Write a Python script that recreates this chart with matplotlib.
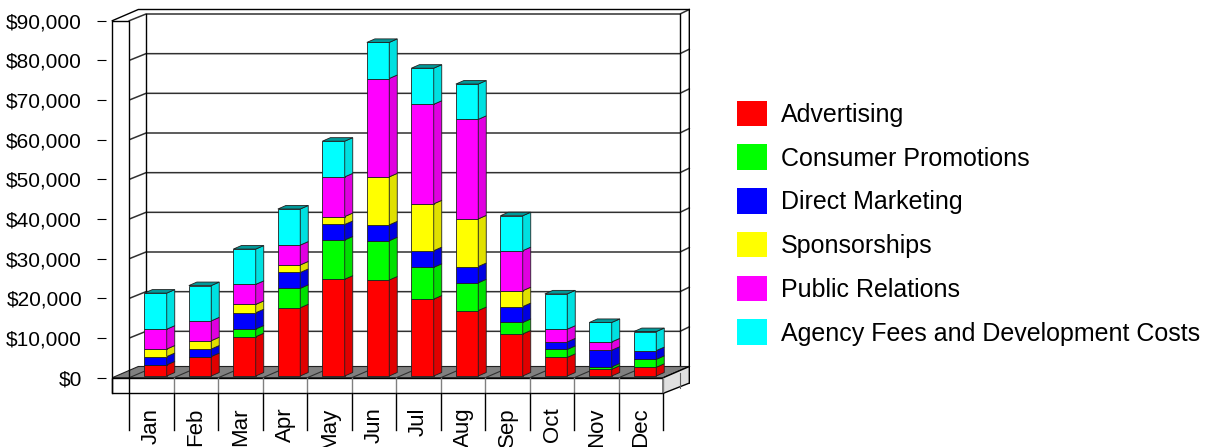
import matplotlib
matplotlib.use("Agg")
import matplotlib.pyplot as plt
from matplotlib.patches import Polygon, Rectangle, Patch
import numpy as np

plt.rcParams['font.family'] = ['Liberation Sans', 'DejaVu Sans']

months = ["Jan", "Feb", "Mar", "Apr", "May", "Jun",
          "Jul", "Aug", "Sep", "Oct", "Nov", "Dec"]
series = ["Advertising", "Consumer Promotions", "Direct Marketing",
          "Sponsorships", "Public Relations", "Agency Fees and Development Costs"]

advertising = [2800, 4900, 9900, 17200, 24400, 24200, 19400, 16500, 10600, 4700, 1700, 2200]
consumer_promotions = [0, 0, 1950, 4900, 9900, 9900, 8000, 7000, 2900, 2000, 600, 2000]
direct_marketing = [2100, 1900, 4100, 4000, 3900, 4000, 4200, 4100, 4000, 1900, 4200, 2200]
sponsorships = [1900, 2100, 2100, 1900, 2000, 12100, 11800, 12000, 4000, 0, 0, 0]
public_relations = [5000, 5000, 5050, 5000, 10000, 24800, 25100, 25100, 10100, 3200, 2100, 0]
agency_fees = [9100, 8900, 8900, 9100, 9000, 9100, 9100, 8900, 8800, 8900, 4900, 4800]

values = [advertising, consumer_promotions, direct_marketing,
          sponsorships, public_relations, agency_fees]
colors = ["#ff0000", "#00ff00", "#0000ff", "#ffff00", "#ff00ff", "#00ffff"]

y_ticks = list(range(0, 90001, 10000))
y_max = 90000

# pixel layout of the plot box
W, H = 1212, 447
X0, CAT_W = 129.3, 44.5
Y0, Y_TOP = 377.7, 20.7
PY = (Y0 - Y_TOP) / y_max


def dx(p):
    return p / CAT_W


def dy(p):
    return p / PY


def shade(c, f):
    r, g, b = matplotlib.colors.to_rgb(c)
    return (r * f, g * f, b * f)


fig = plt.figure(figsize=(W / 100, H / 100), dpi=100)
ax = fig.add_axes([X0 / W, (H - Y0) / H, 12 * CAT_W / W, (Y0 - Y_TOP) / H])
ax.set_xlim(-0.5, 11.5)
ax.set_ylim(0, y_max)
ax.patch.set_visible(False)
for s in ax.spines.values():
    s.set_visible(False)

# depths of the box
DI = (dx(16.7), dy(6.7))   # wall inner depth
DF = (dx(26), dy(11.2))    # full depth incl. wall thickness
x_out = -0.5 - dx(17)
x_back_r = 11.5 + DI[0]
x_far_r = 11.5 + DF[0]
floor_low = -dy(15.6)
sep_low = -dy(52.3)
line_kw = dict(color="black", lw=1.0, clip_on=False)

# back wall grid and wall edges
for v in y_ticks:
    ax.plot([-0.5, -0.5 + DI[0], x_back_r, x_far_r],
            [v, v + DI[1], v + DI[1], v + DI[1] + dy(4.5)],
            color="#303030", lw=1.1, clip_on=False, zorder=1)
ax.plot([-0.5 + DI[0], -0.5 + DI[0]], [DI[1], y_max + DI[1]], zorder=1, **line_kw)
ax.plot([x_back_r, x_back_r], [0, y_max + DI[1]], zorder=1, **line_kw)
ax.plot([x_out, x_out + DF[0], x_far_r, x_far_r],
        [y_max, y_max + DF[1], y_max + DF[1], DF[1] - dy(16.6)], zorder=1, **line_kw)

# left wall front face
ax.add_patch(Polygon([(x_out, floor_low), (-0.5, floor_low), (-0.5, y_max), (x_out, y_max)],
                     closed=True, facecolor="white", edgecolor="none", clip_on=False, zorder=2))
ax.plot([x_out, x_out, -0.5, -0.5], [floor_low, y_max, y_max, sep_low], zorder=6, **line_kw)

# floor
ax.add_patch(Polygon([(x_out, 0), (11.5, 0), (11.5 + DF[0], DF[1]), (x_out + DF[0], DF[1])],
                     closed=True, facecolor="#808080", edgecolor="#202020", lw=0.8,
                     clip_on=False, zorder=3))
for k in range(13):
    xb = k - 0.5
    ax.plot([xb, xb + DF[0]], [0, DF[1]], color="#303030", lw=0.8, clip_on=False, zorder=3)
ax.add_patch(Rectangle((x_out, floor_low), 11.5 - x_out, -floor_low, facecolor="white",
                       edgecolor="black", lw=1.0, clip_on=False, zorder=3))
ax.add_patch(Polygon([(11.5, 0), (11.5 + DF[0], DF[1]), (11.5 + DF[0], DF[1] - dy(16.6)),
                      (11.5, floor_low)], closed=True, facecolor="#e0e0e0",
                     edgecolor="black", lw=1.0, clip_on=False, zorder=3))
ax.plot([x_back_r, x_back_r], [DI[1] - dy(2), DI[1] - dy(17)], color="#606060", lw=0.8,
        clip_on=False, zorder=3)

# category separators under the floor
for k in range(1, 13):
    xb = k - 0.5
    ax.plot([xb, xb], [0, floor_low], color="#808080", lw=1.0, clip_on=False, zorder=4)
    ax.plot([xb, xb], [floor_low, sep_low], **line_kw, zorder=4)

# stacked 3d bars
bar_w = 0.503
off = (dx(4), dy(1.7))
depth = (dx(8), dy(3.5))
x = np.arange(len(months)) + off[0]
cum = np.zeros(len(months)) + off[1]
for vals, c in zip(values, colors):
    vals = np.array(vals, dtype=float)
    ax.bar(x, vals, bottom=cum, width=bar_w, color=c, edgecolor="#202020",
           lw=0.6, zorder=5, clip_on=False)
    for i in range(len(months)):
        if vals[i] <= 0:
            continue
        xr = x[i] + bar_w / 2
        b, t = cum[i], cum[i] + vals[i]
        ax.add_patch(Polygon([(xr, b), (xr + depth[0], b + depth[1]),
                              (xr + depth[0], t + depth[1]), (xr, t)], closed=True,
                             facecolor=shade(c, 0.88), edgecolor="#202020", lw=0.6,
                             zorder=5, clip_on=False))
    cum = cum + vals
for i in range(len(months)):
    xl, xr, t = x[i] - bar_w / 2, x[i] + bar_w / 2, cum[i]
    ax.add_patch(Polygon([(xl, t), (xl + depth[0], t + depth[1]),
                          (xr + depth[0], t + depth[1]), (xr, t)], closed=True,
                         facecolor=shade(colors[-1], 0.6), edgecolor="#202020", lw=0.6,
                         zorder=5, clip_on=False))

# axes ticks and labels
ax.spines['left'].set_position(('outward', 17))
ax.set_yticks(y_ticks, [f"${v:,}" for v in y_ticks])
ax.tick_params(axis='y', length=6.5, width=0.8, pad=10.5, labelsize=15, colors="black")
ax.set_xticks(range(len(months)), months, rotation=90)
ax.tick_params(axis='x', length=0, pad=21.5, labelsize=16)

handles = [Patch(facecolor=c, edgecolor="none") for c in colors]
fig.legend(handles, series, loc="upper left", bbox_to_anchor=(737 / W, 1 - 100.5 / H),
           frameon=False, fontsize=18, handlelength=1.2, handleheight=1.2,
           handletextpad=0.56, labelspacing=0.7, borderpad=0, borderaxespad=0)

fig.savefig("out.png", dpi=100)
